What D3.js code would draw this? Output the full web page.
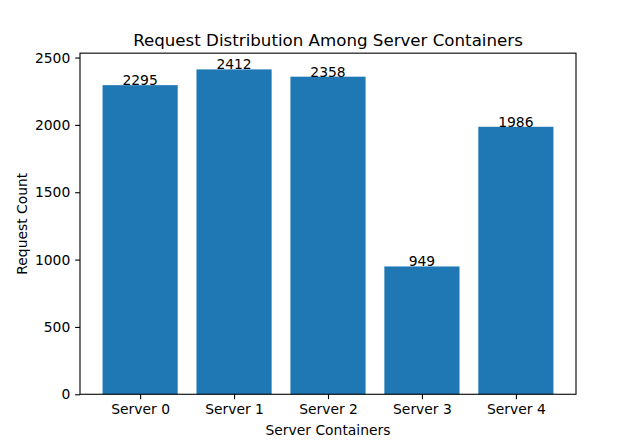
<!DOCTYPE html>
<html><head><meta charset="utf-8">
<script src="https://cdn.jsdelivr.net/npm/d3@7"></script>
<style>body{margin:0;background:#fff}svg{display:block}text{font-family:"DejaVu Sans",sans-serif;fill:#000}</style>
</head><body>
<script>
const categories = ["Server 0","Server 1","Server 2","Server 3","Server 4"];
const requestCounts = [2295, 2412, 2358, 949, 1986];
const yTicks = [0, 500, 1000, 1500, 2000, 2500];

(function () {
const W = 640, H = 443;
const mLeft = 80, mRight = 576, mTop = 53.16, mBottom = 394.27;
const svg = d3.select("body").append("svg").attr("width", W).attr("height", H);

const n = categories.length;
const x = d3.scaleLinear().domain([-0.64, n - 1 + 0.64]).range([mLeft, mRight]);
const ymax = d3.max(requestCounts) * 1.05;
const y = d3.scaleLinear().domain([0, ymax]).range([mBottom, mTop]);

svg.selectAll("rect.bar").data(requestCounts).enter().append("rect")
  .attr("class", "bar")
  .attr("x", (d, i) => x(i - 0.4))
  .attr("width", (d, i) => x(i + 0.4) - x(i - 0.4))
  .attr("y", d => y(d))
  .attr("height", d => y(0) - y(d))
  .attr("fill", "#1f77b4");

svg.selectAll("text.val").data(requestCounts).enter().append("text")
  .attr("class", "val")
  .attr("x", (d, i) => x(i))
  .attr("y", d => y(d))
  .attr("text-anchor", "middle")
  .attr("font-size", "13.89px")
  .text(d => d);

const xAxis = d3.axisBottom(x).tickValues(d3.range(n)).tickFormat(i => categories[i])
  .tickSizeInner(4.86).tickSizeOuter(0).tickPadding(4.86);
const gx = svg.append("g").attr("transform", `translate(0,${mBottom})`).call(xAxis);
const yAxis = d3.axisLeft(y).tickValues(yTicks).tickFormat(d3.format("d"))
  .tickSizeInner(4.86).tickSizeOuter(0).tickPadding(4.86);
const gy = svg.append("g").attr("transform", `translate(${mLeft},0)`).call(yAxis);
[gx, gy].forEach(g => {
  g.selectAll("text").attr("font-size", "13.89px").attr("font-family", "DejaVu Sans, sans-serif").attr("fill", "#000");
  g.selectAll("line").attr("stroke", "#000").attr("stroke-width", 1.1);
  g.select(".domain").remove();
});

svg.append("rect").attr("x", mLeft).attr("y", mTop).attr("width", mRight - mLeft).attr("height", mBottom - mTop)
  .attr("fill", "none").attr("stroke", "#000").attr("stroke-width", 1.1);

svg.append("text").attr("x", (mLeft + mRight) / 2).attr("y", 46).attr("text-anchor", "middle")
  .attr("font-size", "16.67px").text("Request Distribution Among Server Containers");
svg.append("text").attr("x", (mLeft + mRight) / 2).attr("y", 435).attr("text-anchor", "middle")
  .attr("font-size", "13.89px").text("Server Containers");
svg.append("text").attr("transform", `translate(27,${(mTop + mBottom) / 2}) rotate(-90)`).attr("text-anchor", "middle")
  .attr("font-size", "13.89px").text("Request Count");
})();
</script>
</body></html>
